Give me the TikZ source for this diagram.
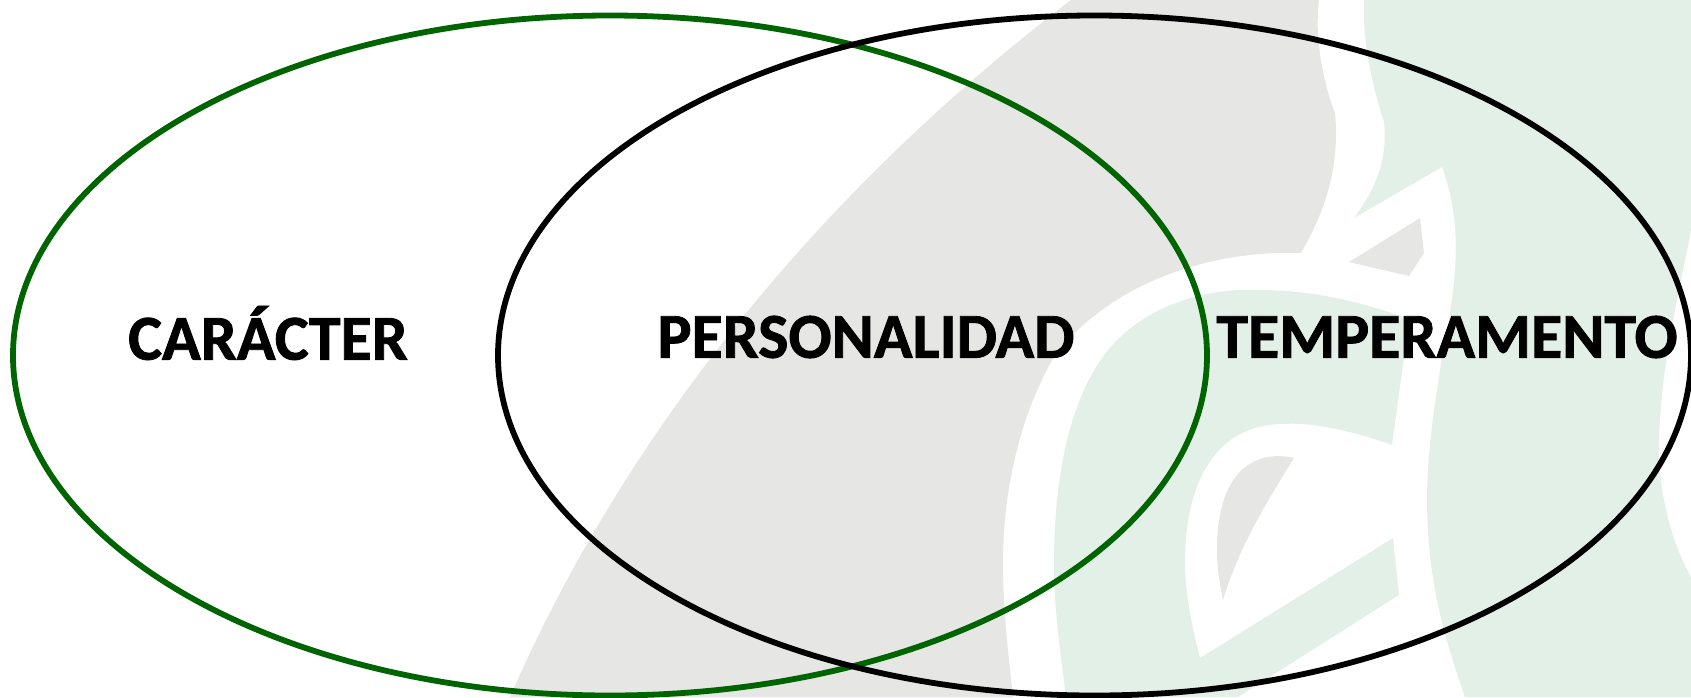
\documentclass[tikz,border=0pt]{standalone}
\usepackage{fontspec}
\setmainfont{Carlito}[BoldFeatures={FakeBold=1.3}]
\definecolor{logogray}{RGB}{230, 230, 228}
\definecolor{logogreen}{RGB}{227, 240, 232}
\definecolor{ringgreen}{RGB}{0, 100, 0}
\tikzset{
    ring/.style={line width=3.3pt},
    word/.style={font=\fontsize{36.4}{40}\selectfont\bfseries, inner sep=0pt}
}
\begin{document}
\begin{tikzpicture}[x=0.02cm, y=-0.02cm]
    \useasboundingbox (0,0) rectangle (1691,697);

    % Gray body of the logo
    \fill[logogray] (510,697) .. controls (600,490) and (770,230) .. (1071,0)
        -- (1319,0) .. controls (1314,40) and (1324,85) .. (1335,113)
        .. controls (1340,165) and (1326,210) .. (1301,253)
        .. controls (1205,250) and (1110,285) .. (1055,355)
        .. controls (1020,415) and (1003,490) .. (1003,563)
        .. controls (1003,610) and (1008,650) .. (1013,697) -- cycle;

    % Stem and leaf
    \fill[logogray] (1420,218) -- (1424,253) -- (1409,276) -- (1349,262) -- cycle;
    \fill[logogray] (1294,458) .. controls (1260,450) and (1217,465) .. (1217,550)
        .. controls (1217,570) and (1220,585) .. (1223,600)
        .. controls (1240,545) and (1265,505) .. (1294,458) -- cycle;

    % Pale green, left of the white band
    \fill[logogreen] (1066,697) .. controls (1060,650) and (1054,610) .. (1054,563)
        .. controls (1054,470) and (1072,395) .. (1108,350)
        .. controls (1150,300) and (1215,288) .. (1258,290)
        .. controls (1320,290) and (1370,305) .. (1412,320)
        -- (1404,357) -- (1392,445)
        .. controls (1350,430) and (1310,422) .. (1283,424)
        .. controls (1210,425) and (1185,490) .. (1185,563)
        .. controls (1185,595) and (1192,625) .. (1200,658)
        -- (1393,538) -- (1399,595) -- (1238,697) -- cycle;

    % Pale green, right of the white band
    \fill[logogreen] (1364,0) .. controls (1362,40) and (1372,85) .. (1384,122)
        .. controls (1388,160) and (1375,190) .. (1354,218)
        -- (1442,167) .. controls (1465,230) and (1455,290) .. (1442,357)
        .. controls (1432,420) and (1427,460) .. (1427,500)
        .. controls (1427,580) and (1445,640) .. (1465,697)
        -- (1691,697) -- (1691,577)
        .. controls (1670,540) and (1659,490) .. (1659,450)
        .. controls (1659,370) and (1680,290) .. (1691,230)
        -- (1691,0) -- cycle;

    % Rings
    \draw[ring, ringgreen] (610,355.5) ellipse [x radius=597, y radius=340];
    \draw[ring, black] (1094.5,355.5) ellipse [x radius=596.5, y radius=340];

    % Labels
    \node[word] (caracter) at (268,333) {CARÁCTER};
    \node[word] (personalidad) at (866,337) {PERSONALIDAD};
    \node[word] (temperamento) at (1447,337) {TEMPERAMENTO};
\end{tikzpicture}
\end{document}
